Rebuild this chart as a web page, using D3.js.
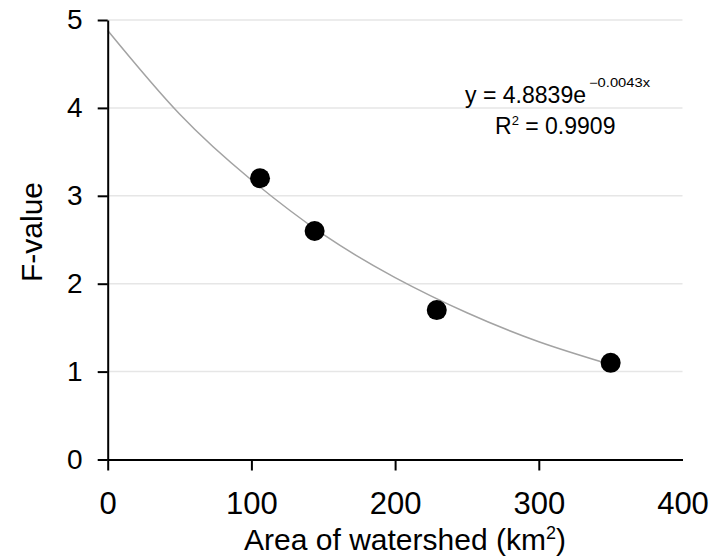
<!DOCTYPE html>
<html>
<head>
<meta charset="utf-8">
<script src="https://cdn.jsdelivr.net/npm/d3@7"></script>
<style>
  html, body { margin: 0; padding: 0; background: #fff; }
  svg { display: block; font-family: "Liberation Sans", Arial, Helvetica, sans-serif; }
</style>
</head>
<body>
<svg id="chart" width="721" height="556"></svg>
<script>
// ---- data ----
const areaKm2 = [106, 144, 229, 350];
const fValue = [3.2, 2.6, 1.7, 1.1];
const trendX = [0, 50, 100, 150, 200, 250, 300, 350];
const trendY = [4.88, 3.93, 3.18, 2.56, 2.07, 1.67, 1.34, 1.08];
const xTicks = [0, 100, 200, 300, 400];
const yTicks = [0, 1, 2, 3, 4, 5];
const gridValues = [1, 2, 3, 4, 5];
const eqMain = "y = 4.8839e";
const eqExp = "\u22120.0043x";
const r2Text = " = 0.9909";
const xTitle = "Area of watershed (km";
const yTitle = "F-value";

// ---- layout ----
const svg = d3.select("#chart");
const mLeft = 107.7, mRight = 682.5, mTop = 20, mBottom = 459.5;
const x = d3.scaleLinear().domain([0, 400]).range([mLeft, mRight]);
const y = d3.scaleLinear().domain([0, 5]).range([mBottom, mTop]);

// gridlines
svg.append("g").selectAll("line").data(gridValues).join("line")
  .attr("x1", x(0)).attr("x2", x(400))
  .attr("y1", d => y(d)).attr("y2", d => y(d))
  .attr("stroke", "#e6e6e6").attr("stroke-width", 1.5);

// trend curve
const line = d3.line().x((d, i) => x(trendX[i])).y(d => y(d)).curve(d3.curveNatural);
svg.append("path").datum(trendY).attr("d", line)
  .attr("fill", "none").attr("stroke", "#a3a3a3").attr("stroke-width", 1.5);

// axes
const xAxis = svg.append("g").attr("transform", `translate(0,${mBottom})`)
  .call(d3.axisBottom(x).tickValues(xTicks).tickFormat(d3.format("d"))
    .tickSize(11).tickSizeOuter(0).tickPadding(21));
xAxis.selectAll(".tick").filter(d => d === 400).select("line").remove();
const yAxis = svg.append("g").attr("transform", `translate(${mLeft},0)`)
  .call(d3.axisLeft(y).tickValues(yTicks).tickFormat(d3.format("d"))
    .tickSize(10).tickSizeOuter(0).tickPadding(15));
[xAxis, yAxis].forEach(a => {
  a.select(".domain").attr("stroke", "#000").attr("stroke-width", 2);
  a.selectAll(".tick line").attr("stroke", "#000").attr("stroke-width", 2);
  a.selectAll(".tick text").attr("fill", "#000")
    .style("font-family", "'Liberation Sans', Arial, sans-serif");
});
xAxis.selectAll(".tick text").style("font-size", "31px");
yAxis.selectAll(".tick text").style("font-size", "28px");

// points
svg.append("g").selectAll("circle").data(fValue).join("circle")
  .attr("cx", (d, i) => x(areaKm2[i])).attr("cy", d => y(d))
  .attr("r", 10).attr("fill", "#000");

// equation
svg.append("text").attr("x", 465).attr("y", 103).style("font-size", "23px")
  .attr("textLength", 121).attr("lengthAdjust", "spacingAndGlyphs").text(eqMain);
svg.append("text").attr("x", 589).attr("y", 87).style("font-size", "12px")
  .attr("textLength", 61).attr("lengthAdjust", "spacingAndGlyphs").text(eqExp);
const r2 = svg.append("text").attr("x", 495).attr("y", 134).style("font-size", "23px");
r2.append("tspan").text("R");
r2.append("tspan").attr("dy", -9).style("font-size", "13px").text("2");
r2.append("tspan").attr("dy", 9).text(r2Text);

// axis titles
const xt = svg.append("text").attr("x", 405).attr("y", 550).attr("text-anchor", "middle")
  .style("font-size", "30px");
xt.append("tspan").text(xTitle);
xt.append("tspan").attr("dy", -11).style("font-size", "18px").text("2");
xt.append("tspan").attr("dy", 11).text(")");

svg.append("text").attr("transform", "translate(42,232) rotate(-90)")
  .attr("text-anchor", "middle").style("font-size", "30px").text(yTitle);
</script>
</body>
</html>
